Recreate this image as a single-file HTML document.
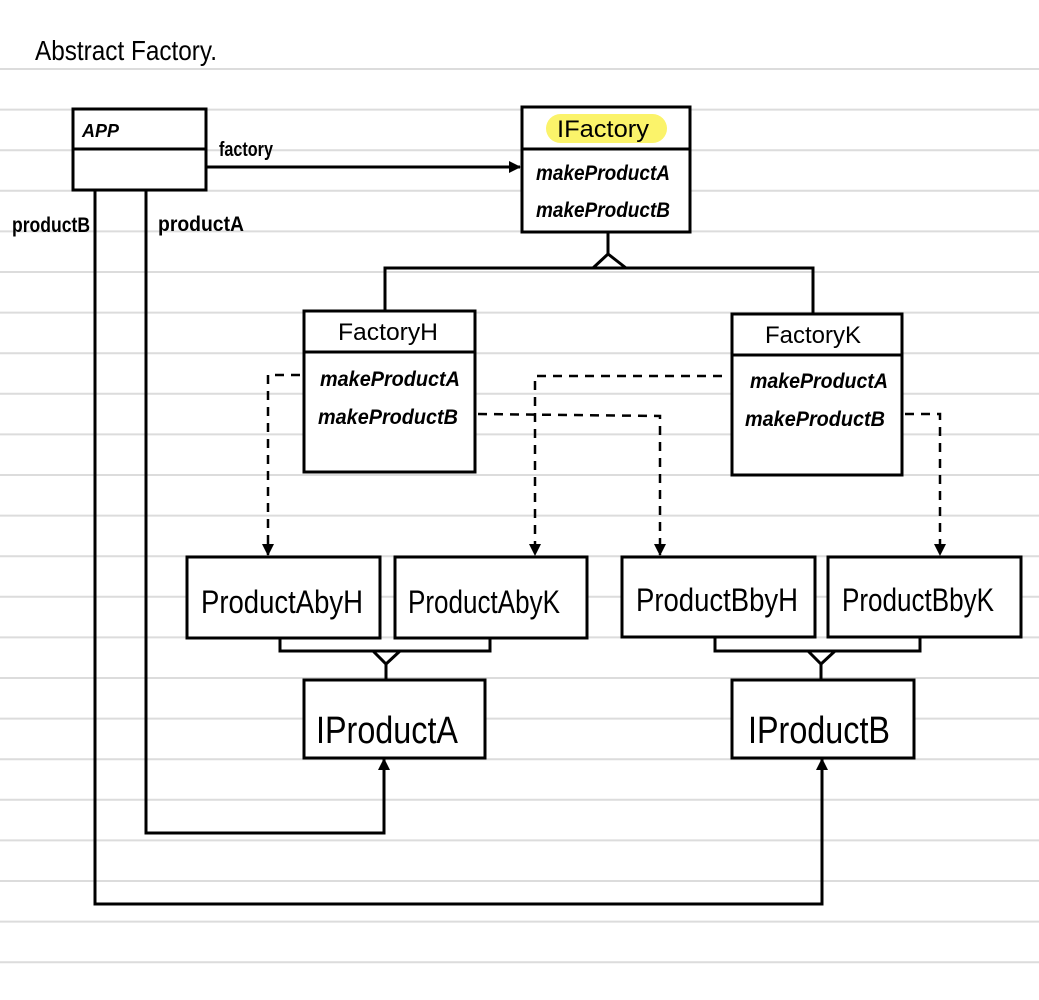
<!DOCTYPE html>
<html><head><meta charset="utf-8"><style>
html,body{margin:0;padding:0;background:#fff;}
svg{display:block;}
text{font-family:"Liberation Sans Narrow","Liberation Sans",sans-serif;fill:#000;}
</style></head><body>
<svg width="1039" height="1000" viewBox="0 0 1039 1000" xmlns="http://www.w3.org/2000/svg">
<defs>
<marker id="ar" markerWidth="12" markerHeight="12" refX="11" refY="6" orient="auto" markerUnits="userSpaceOnUse">
<path d="M0,0 L12,6 L0,12 z" fill="#000"/></marker>
</defs>
<g stroke="#dcdcdc" stroke-width="2">
<line x1="0" y1="69" x2="1039" y2="69"/><line x1="0" y1="109.6" x2="1039" y2="109.6"/><line x1="0" y1="150.2" x2="1039" y2="150.2"/><line x1="0" y1="190.8" x2="1039" y2="190.8"/><line x1="0" y1="231.4" x2="1039" y2="231.4"/><line x1="0" y1="272" x2="1039" y2="272"/><line x1="0" y1="312.6" x2="1039" y2="312.6"/><line x1="0" y1="353.2" x2="1039" y2="353.2"/><line x1="0" y1="393.8" x2="1039" y2="393.8"/><line x1="0" y1="434.4" x2="1039" y2="434.4"/><line x1="0" y1="475" x2="1039" y2="475"/><line x1="0" y1="515.6" x2="1039" y2="515.6"/><line x1="0" y1="556.2" x2="1039" y2="556.2"/><line x1="0" y1="596.8" x2="1039" y2="596.8"/><line x1="0" y1="637.4" x2="1039" y2="637.4"/><line x1="0" y1="678" x2="1039" y2="678"/><line x1="0" y1="718.6" x2="1039" y2="718.6"/><line x1="0" y1="759.2" x2="1039" y2="759.2"/><line x1="0" y1="799.8" x2="1039" y2="799.8"/><line x1="0" y1="840.4" x2="1039" y2="840.4"/><line x1="0" y1="881" x2="1039" y2="881"/><line x1="0" y1="921.6" x2="1039" y2="921.6"/><line x1="0" y1="962.2" x2="1039" y2="962.2"/>
</g>
<text x="35" y="60" font-size="28" textLength="182" lengthAdjust="spacingAndGlyphs">Abstract Factory.</text>
<g fill="#fff" stroke="#000" stroke-width="3">
<rect x="73" y="109" width="133" height="81"/>
<rect x="522" y="107" width="168" height="125"/>
<rect x="304" y="311" width="171" height="161"/>
<rect x="732" y="314" width="170" height="161"/>
<rect x="187" y="557" width="193" height="81"/>
<rect x="395" y="557" width="192" height="81"/>
<rect x="622" y="557" width="193" height="80"/>
<rect x="828" y="557" width="193" height="80"/>
<rect x="304" y="680" width="181" height="78"/>
<rect x="732" y="680" width="182" height="78"/>
</g>
<rect x="546" y="114" width="121" height="29" rx="14.5" fill="#fbf36a"/>
<g stroke="#000" stroke-width="3" fill="none">
<line x1="73" y1="149" x2="206" y2="149"/>
<line x1="522" y1="149" x2="690" y2="149"/>
<line x1="304" y1="352" x2="475" y2="352"/>
<line x1="732" y1="355" x2="902" y2="355"/>
<line x1="206" y1="167" x2="520" y2="167" marker-end="url(#ar)"/>
<line x1="608" y1="233" x2="608" y2="254"/>
<path d="M593,268 L608,254 L626,268"/>
<path d="M385,310 L385,268 L813,268 L813,313"/>
<path d="M146,190 L146,833 L384,833 L384,759" marker-end="url(#ar)"/>
<path d="M95,190 L95,904 L822,904 L822,759" marker-end="url(#ar)"/>
<path d="M280,638 L280,651 L490,651 L490,638"/>
<path d="M373,651 L386,664 L400,651"/><line x1="386" y1="664" x2="386" y2="680"/>
<path d="M715,637 L715,651 L920,651 L920,637"/>
<path d="M808,651 L821,664 L835,651"/><line x1="821" y1="664" x2="821" y2="680"/>
</g>
<g stroke="#000" stroke-width="2.5" fill="none" stroke-dasharray="9,7">
<path d="M300,375 L268,375 L268,555" marker-end="url(#ar)"/>
<path d="M722,376 L535,376 L535,555" marker-end="url(#ar)"/>
<path d="M478,414 L660,416 L660,555" marker-end="url(#ar)"/>
<path d="M905,414 L940,414 L940,555" marker-end="url(#ar)"/>
</g>
<g font-weight="bold">
<text x="82" y="137" font-size="18" font-style="italic">APP</text>
<text x="219" y="156" font-size="20" textLength="54" lengthAdjust="spacingAndGlyphs">factory</text>
<text x="12" y="232" font-size="21" textLength="78" lengthAdjust="spacingAndGlyphs">productB</text>
<text x="158" y="231" font-size="21" textLength="86" lengthAdjust="spacingAndGlyphs">productA</text>
<text x="536" y="180" font-size="21" font-style="italic" textLength="134" lengthAdjust="spacingAndGlyphs">makeProductA</text>
<text x="536" y="217" font-size="21" font-style="italic" textLength="134" lengthAdjust="spacingAndGlyphs">makeProductB</text>
<text x="320" y="386" font-size="21" font-style="italic" textLength="140" lengthAdjust="spacingAndGlyphs">makeProductA</text>
<text x="318" y="424" font-size="21" font-style="italic" textLength="140" lengthAdjust="spacingAndGlyphs">makeProductB</text>
<text x="750" y="388" font-size="21" font-style="italic" textLength="138" lengthAdjust="spacingAndGlyphs">makeProductA</text>
<text x="745" y="426" font-size="21" font-style="italic" textLength="140" lengthAdjust="spacingAndGlyphs">makeProductB</text>
</g>
<text x="557" y="137" font-size="24" textLength="92" lengthAdjust="spacingAndGlyphs">IFactory</text>
<text x="338" y="340" font-size="24" textLength="100" lengthAdjust="spacingAndGlyphs">FactoryH</text>
<text x="765" y="343" font-size="24" textLength="96" lengthAdjust="spacingAndGlyphs">FactoryK</text>
<text x="201" y="613" font-size="32" textLength="162" lengthAdjust="spacingAndGlyphs">ProductAbyH</text>
<text x="408" y="613" font-size="32" textLength="152" lengthAdjust="spacingAndGlyphs">ProductAbyK</text>
<text x="636" y="611" font-size="32" textLength="162" lengthAdjust="spacingAndGlyphs">ProductBbyH</text>
<text x="842" y="611" font-size="32" textLength="152" lengthAdjust="spacingAndGlyphs">ProductBbyK</text>
<text x="316" y="743" font-size="38" textLength="142" lengthAdjust="spacingAndGlyphs">IProductA</text>
<text x="748" y="743" font-size="38" textLength="142" lengthAdjust="spacingAndGlyphs">IProductB</text>
</svg>
</body></html>
